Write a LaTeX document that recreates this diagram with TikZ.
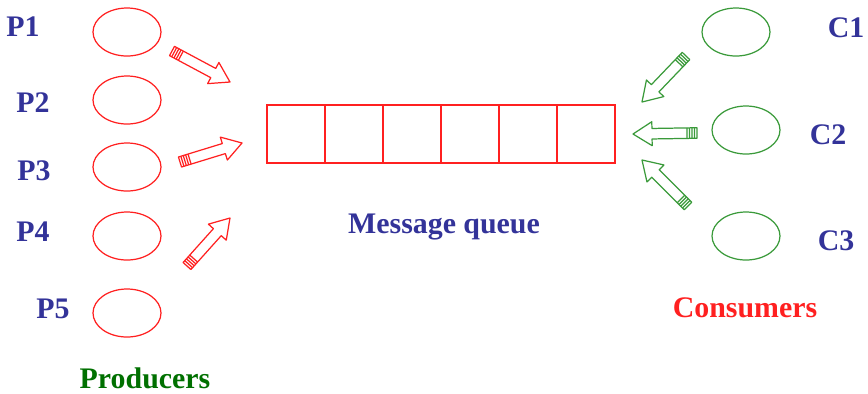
\documentclass[tikz,border=0pt]{standalone}
\usepackage{fontspec}
\setmainfont{Liberation Serif}
\usepackage{tikz}
\usetikzlibrary{calc,shapes.geometric}

\definecolor{lblue}{HTML}{333399}
\definecolor{pred}{HTML}{FF2020}
\definecolor{cgreen}{HTML}{3A9A3A}
\definecolor{dgreen}{HTML}{007000}

% hollow block arrow with a striped tail: #1 style, #2 tail, #3 head
\newcommand{\fatarrow}[3]{%
  \coordinate (neck) at ($(#3)!0.38cm!(#2)$);
  \draw[#1] ($(#2)!0.105cm!90:(#3)$) -- ($(neck)!0.105cm!90:(#3)$)
    -- ($(neck)!0.24cm!90:(#3)$) -- (#3) -- ($(neck)!0.24cm!-90:(#3)$)
    -- ($(neck)!0.105cm!-90:(#3)$) -- ($(#2)!0.105cm!-90:(#3)$) -- cycle;
  \foreach \s in {0.05,0.1,0.15,0.2}{
    \coordinate (strp) at ($(#2)!\s cm!(#3)$);
    \draw[#1] ($(strp)!0.105cm!90:(#3)$) -- ($(strp)!0.105cm!-90:(#3)$);
  }%
}

\begin{document}
\begin{tikzpicture}[
    x=0.02cm,y=-0.02cm,
    lbl/.style={font=\fontsize{17}{20}\selectfont\bfseries, anchor=base, inner sep=0pt},
    prod/.style={draw=pred, ellipse, line width=0.7pt, minimum width=1.36cm, minimum height=0.96cm, inner sep=0pt},
    cons/.style={prod, draw=cgreen},
    cell/.style={draw=pred, line width=0.6pt, minimum width=1.16cm, minimum height=1.16cm, inner sep=0pt},
    parrow/.style={pred, line width=0.7pt, line join=round},
    carrow/.style={cgreen, line width=0.7pt, line join=round}
]
\useasboundingbox (0,0) rectangle (868,393);

% producers
\node[prod] (p1) at (127,32) {};
\node[prod] (p2) at (127,100) {};
\node[prod] (p3) at (127,167) {};
\node[prod] (p4) at (127,236) {};
\node[prod] (p5) at (127,313) {};
\node[lbl, lblue] (lp1) at (23,36) {P1};
\node[lbl, lblue] (lp2) at (33,112) {P2};
\node[lbl, lblue] (lp3) at (34,180) {P3};
\node[lbl, lblue] (lp4) at (33,241) {P4};
\node[lbl, lblue] (lp5) at (53,318) {P5};
\node[lbl, dgreen] (prods) at (145,388) {Producers};

% queue
\foreach \i in {1,...,6}
  \node[cell] (q\i) at ({267+29+58*(\i-1)},134) {};
\node[lbl, lblue] (mq) at (444,233) {Message queue};

% consumers
\node[cons] (c1) at (736,32) {};
\node[cons] (c2) at (746,130) {};
\node[cons] (c3) at (746,236) {};
\node[lbl, lblue] (lc1) at (846,37) {C1};
\node[lbl, lblue] (lc2) at (828,144) {C2};
\node[lbl, lblue] (lc3) at (836,250) {C3};
\node[lbl, pred] (conss) at (745,317) {Consumers};

% block arrows
\coordinate (pt1) at (172,51);  \coordinate (ph1) at (230,82);
\coordinate (pt2) at (180,162); \coordinate (ph2) at (242,143);
\coordinate (pt3) at (187,266); \coordinate (ph3) at (230,218);
\coordinate (ct1) at (686,56);  \coordinate (ch1) at (642,102);
\coordinate (ct2) at (697,133); \coordinate (ch2) at (633,134);
\coordinate (ct3) at (688,206); \coordinate (ch3) at (642,160);
\fatarrow{parrow}{pt1}{ph1}
\fatarrow{parrow}{pt2}{ph2}
\fatarrow{parrow}{pt3}{ph3}
\fatarrow{carrow}{ct1}{ch1}
\fatarrow{carrow}{ct2}{ch2}
\fatarrow{carrow}{ct3}{ch3}
\end{tikzpicture}
\end{document}
